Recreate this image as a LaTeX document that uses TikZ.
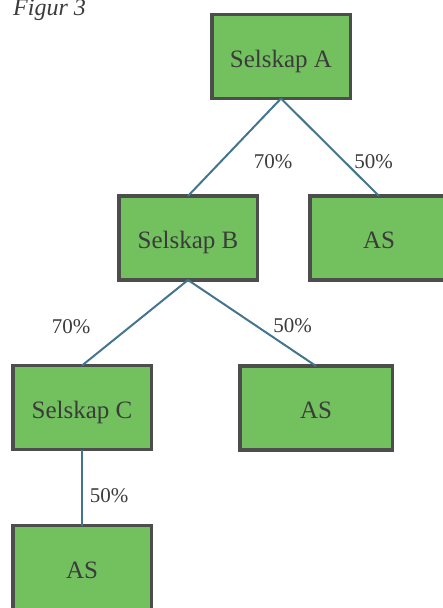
\documentclass[tikz,border=0pt]{standalone}
\usepackage{fontspec}
\setmainfont{Liberation Serif}
\definecolor{boxfill}{HTML}{72C15E}
\definecolor{boxline}{HTML}{4D4D4D}
\definecolor{linkcol}{HTML}{44758F}
\definecolor{txtcol}{HTML}{3B3B3B}
\tikzset{
  company/.style={draw=boxline, fill=boxfill, line width=3.5pt, rectangle,
    inner sep=0pt, outer sep=0pt, text=txtcol,
    font=\fontsize{25}{28}\selectfont, text height=21pt, text depth=0pt,
    minimum width=138.5pt, minimum height=84pt},
  link/.style={draw=linkcol, line width=2pt},
  pct/.style={anchor=base, inner sep=0pt, text=txtcol, font=\fontsize{21}{24}\selectfont}
}
\begin{document}
\begin{tikzpicture}[x=1pt, y=-1pt]
\useasboundingbox (0,0) rectangle (443,608);
\node[anchor=base west, inner sep=0pt, text=txtcol, font=\fontsize{24}{28}\itshape] (fig) at (13,15) {Figur 3};
\node[company] (A) at (281,56.5) {Selskap A};
\node[company] (B) at (188,238) {Selskap B};
\node[company] (AS1) at (379,238) {AS};
\node[company] (C) at (82,407.5) {Selskap C};
\node[company, minimum width=152.5pt] (AS2) at (316,408) {AS};
\node[company] (AS3) at (82,567.5) {AS};
\draw[link] (A.south) -- (B.north);
\draw[link] (A.south) -- (AS1.north);
\draw[link] (B.south) -- (C.north);
\draw[link] (B.south) -- (AS2.north);
\draw[link] (C.south) -- (AS3.north);
\node[pct] (p1) at (273,168) {70\%};
\node[pct] (p2) at (373.5,168) {50\%};
\node[pct] (p3) at (71,333) {70\%};
\node[pct] (p4) at (292.5,332) {50\%};
\node[pct] (p5) at (109,502) {50\%};
\end{tikzpicture}
\end{document}
